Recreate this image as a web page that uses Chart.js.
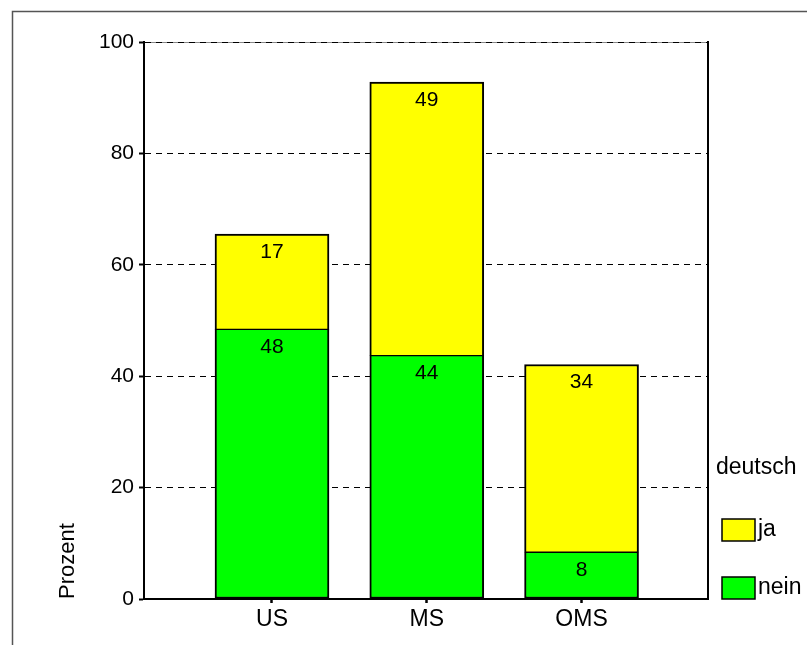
<!DOCTYPE html>
<html>
<head>
<meta charset="utf-8">
<script src="https://cdn.jsdelivr.net/npm/chart.js@4.4.0/dist/chart.umd.min.js"></script>
<style>
  html, body { margin: 0; padding: 0; background: #fff; }
  #wrap { width: 807px; height: 645px; }
</style>
</head>
<body>
<div id="wrap"><canvas id="chart" width="807" height="645"></canvas></div>
<script>
// values (percent)
const categories = ['US', 'MS', 'OMS'];
const seriesNames = ['nein', 'ja'];
const neinValues = [48.4, 43.7, 8.4];
const jaValues = [17.1, 49.1, 33.7];
const yTickValues = [0, 20, 40, 60, 80, 100];
const legendTitle = 'deutsch';
const axisTitle = 'Prozent';

const GREEN = '#00ff00';
const YELLOW = '#ffff00';

Chart.defaults.font.family = '"Liberation Sans", Arial, sans-serif';
Chart.defaults.color = '#000';

// numbers inside each segment, near its top
const segmentLabels = {
  id: 'segmentLabels',
  afterDatasetsDraw(chart) {
    const ctx = chart.ctx;
    ctx.save();
    ctx.font = '21px "Liberation Sans", Arial, sans-serif';
    ctx.fillStyle = '#000';
    ctx.textAlign = 'center';
    ctx.textBaseline = 'middle';
    chart.data.datasets.forEach((ds, di) => {
      chart.getDatasetMeta(di).data.forEach((bar, i) => {
        ctx.fillText(String(Math.round(ds.data[i].y)), bar.x, bar.y + 18);
      });
    });
    ctx.restore();
  }
};

// outer frame, plot box and the legend on the right
const frame = {
  id: 'frame',
  beforeDraw(chart) {
    const { ctx, chartArea: a } = chart;
    ctx.save();
    ctx.fillStyle = '#fff';
    ctx.fillRect(0, 0, chart.width, chart.height);
    ctx.strokeStyle = '#555';
    ctx.lineWidth = 1.5;
    ctx.beginPath();
    ctx.moveTo(12.5, chart.height);
    ctx.lineTo(12.5, 11.5);
    ctx.lineTo(chart.width, 11.5);
    ctx.stroke();
    ctx.strokeStyle = '#888';
    ctx.lineWidth = 1;
    ctx.beginPath();
    ctx.moveTo(a.left, a.top + 0.5);
    ctx.lineTo(a.right, a.top + 0.5);
    ctx.stroke();
    ctx.restore();
  },
  afterDraw(chart) {
    const { ctx, chartArea: a } = chart;
    ctx.save();
    ctx.strokeStyle = '#000';
    ctx.lineWidth = 2;
    ctx.beginPath();
    ctx.moveTo(a.right, a.top - 1);
    ctx.lineTo(a.right, a.bottom);
    ctx.stroke();

    const x0 = a.right + 14;
    ctx.font = '23px "Liberation Sans", Arial, sans-serif';
    ctx.fillStyle = '#000';
    ctx.textBaseline = 'middle';
    ctx.textAlign = 'left';
    ctx.fillText(legendTitle, x0 - 6, a.bottom - 131);
    // ja above nein, as in the stack
    const items = chart.data.datasets.slice().reverse();
    items.forEach((ds, k) => {
      const top = a.bottom - 22 - (items.length - 1 - k) * 58;
      ctx.fillStyle = ds.backgroundColor;
      ctx.fillRect(x0, top, 33, 22);
      ctx.lineWidth = 1.5;
      ctx.strokeStyle = '#000';
      ctx.strokeRect(x0, top, 33, 22);
      ctx.fillStyle = '#000';
      ctx.fillText(ds.label, x0 + 36, top + 11);
    });
    ctx.restore();
  }
};

const datasets = [
  {
    label: seriesNames[0],
    data: neinValues.map((v, i) => ({ x: i + 1, y: v })),
    backgroundColor: GREEN,
    borderWidth: { top: 1, left: 2, right: 2, bottom: 2 }
  },
  {
    label: seriesNames[1],
    data: jaValues.map((v, i) => ({ x: i + 1, y: v })),
    backgroundColor: YELLOW,
    borderWidth: { top: 2, left: 2, right: 2, bottom: 1 }
  }
];

new Chart(document.getElementById('chart'), {
  type: 'bar',
  data: { datasets },
  plugins: [frame, segmentLabels],
  options: {
    responsive: false,
    animation: false,
    devicePixelRatio: 1,
    layout: { padding: { left: 0, top: 42, right: 99, bottom: 0 } },
    datasets: {
      bar: {
        barThickness: 114,
        borderColor: '#000',
        borderSkipped: false
      }
    },
    plugins: {
      legend: { display: false },
      tooltip: { enabled: false }
    },
    scales: {
      x: {
        type: 'linear',
        stacked: true,
        offset: false,
        min: 0.173,
        max: 3.817,
        afterBuildTicks(scale) {
          scale.ticks = categories.map((c, i) => ({ value: i + 1 }));
        },
        afterFit(scale) { scale.height = 46; },
        ticks: {
          font: { size: 23 },
          padding: 3,
          callback: (v) => categories[Math.round(v) - 1] || ''
        },
        grid: {
          offset: false,
          drawOnChartArea: false,
          color: '#000',
          tickLength: 4,
          tickWidth: 2.5
        },
        border: { color: '#000', width: 2 }
      },
      y: {
        stacked: true,
        min: 0,
        max: 100,
        afterBuildTicks(scale) {
          scale.ticks = yTickValues.map(v => ({ value: v }));
        },
        afterFit(scale) { scale.width = 144; },
        ticks: { font: { size: 21 }, padding: 5 },
        grid: {
          color: '#000',
          lineWidth: 1,
          tickLength: 5,
          tickWidth: 2
        },
        border: { color: '#000', width: 2, dash: [6, 5] },
        title: {
          display: true,
          text: axisTitle,
          align: 'start',
          font: { size: 22 },
          padding: { top: 55, bottom: 0 }
        }
      }
    }
  }
});
</script>
</body>
</html>
